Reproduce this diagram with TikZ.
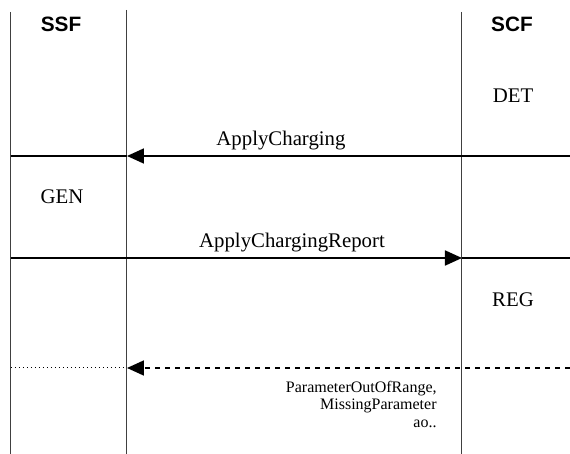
\documentclass[tikz,border=0pt]{standalone}
\usepackage{fontspec}
\setmainfont{Liberation Serif}
\setsansfont{Liberation Sans}
\usetikzlibrary{arrows.meta}

\begin{document}
\begin{tikzpicture}[x=0.5pt,y=-0.5pt,>={Triangle[length=8.5pt,width=7.5pt]},
  lifeline/.style={draw=black!75,line width=0.5pt},
  msg/.style={line width=0.9pt},
  lbl/.style={font=\fontsize{10.4}{12}\selectfont,inner sep=0pt,anchor=base},
  hdr/.style={font=\fontsize{10.4}{12}\selectfont\sffamily\bfseries,inner sep=0pt,anchor=base}]
\useasboundingbox (0,0) rectangle (570,454);

% lifelines
\coordinate (edgeL) at (11,12);
\coordinate (ssfT) at (127,10);
\coordinate (scfT) at (462,12);
\draw[lifeline] (edgeL) -- (11,454);
\draw[lifeline] (ssfT) -- (127,454);
\draw[lifeline] (scfT) -- (462,454);

\node[hdr] (ssf) at (61,32) {SSF};
\node[hdr] (scf) at (512,32) {SCF};
\node[lbl] (det) at (513,103) {DET};
\node[lbl] (gen) at (62,204) {GEN};
\node[lbl] (reg) at (513,307) {REG};

% ApplyCharging
\coordinate (ac0) at (11,156);
\coordinate (ac1) at (127,156);
\coordinate (ac2) at (570,156);
\draw[msg] (ac0) -- (ac1);
\draw[msg,->] (ac2) -- (ac1);
\node[lbl] (acl) at (281,146) {ApplyCharging};

% ApplyChargingReport
\coordinate (acr0) at (11,258);
\coordinate (acr1) at (462,258);
\coordinate (acr2) at (570,258);
\draw[msg,->] (acr0) -- (acr1);
\draw[msg] (acr1) -- (acr2);
\node[lbl] (acrl) at (292,248) {ApplyChargingReport};

% error
\coordinate (err0) at (11,368);
\coordinate (err1) at (127,368);
\coordinate (err2) at (570,368);
\draw[line width=0.5pt,dash pattern=on 0.5pt off 1.5pt] (err0) -- (err1);
\draw[msg,->,dash pattern=on 2.5pt off 2.5pt] (err2) -- (err1);
\node[font=\fontsize{8}{8.6}\selectfont,inner sep=0pt,align=right,anchor=north east] (errl) at (437,381)
  {ParameterOutOfRange,\\MissingParameter\\ao..};
\end{tikzpicture}
\end{document}
